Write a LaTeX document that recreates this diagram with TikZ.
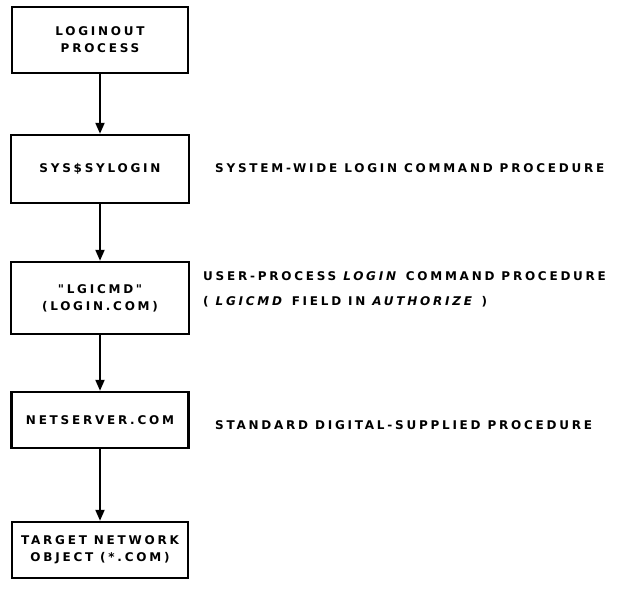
\documentclass[tikz,border=0pt]{standalone}
\usepackage{fontspec}
\usetikzlibrary{arrows.meta}
\newfontfamily\heavysans[LetterSpace=23]{DejaVu Sans}
\begin{document}
\begin{tikzpicture}[x=1pt,y=1pt,
  txt/.style={font=\heavysans\bfseries\fontsize{12}{17}\selectfont},
  stagebox/.style={draw, line width=2.4pt, align=center, inner sep=0pt, txt},
  flow/.style={line width=2pt, -{Triangle[width=9pt,length=11pt]}},
  note/.style={anchor=west, align=left, inner sep=0pt, txt}]
\useasboundingbox (0,0) rectangle (625,-589);

% processing stages, top to bottom
\node[stagebox, minimum width=176, minimum height=66] (loginout) at (100,-40) {LOGINOUT\\PROCESS};
\node[stagebox, minimum width=178, minimum height=68] (sylogin)  at (100,-169) {SYS\$SYLOGIN};
\node[stagebox, minimum width=178, minimum height=72] (lgicmd)   at (100,-298) {"LGICMD"\\(LOGIN.COM)};
\node[stagebox, minimum width=177, minimum height=56] (netsrv)   at (100,-420) {NETSERVER.COM};
\node[stagebox, minimum width=176, minimum height=56] (target)   at (100,-550) {TARGET NETWORK\\OBJECT (*.COM)};

% flow between stages
\draw[flow] (loginout) -- (sylogin);
\draw[flow] (sylogin) -- (lgicmd);
\draw[flow] (lgicmd) -- (netsrv);
\draw[flow] (netsrv) -- (target);

% descriptions
\node[note] (d1) at (215,-168) {SYSTEM-WIDE LOGIN COMMAND PROCEDURE};
\node[note] (d2) at (203,-276) {USER-PROCESS \textit{LOGIN} COMMAND PROCEDURE};
\node[note] (d3) at (203,-302) {( \textit{LGICMD} FIELD IN \textit{AUTHORIZE} )};
\node[note] (d4) at (215,-425) {STANDARD DIGITAL-SUPPLIED PROCEDURE};
\end{tikzpicture}
\end{document}
